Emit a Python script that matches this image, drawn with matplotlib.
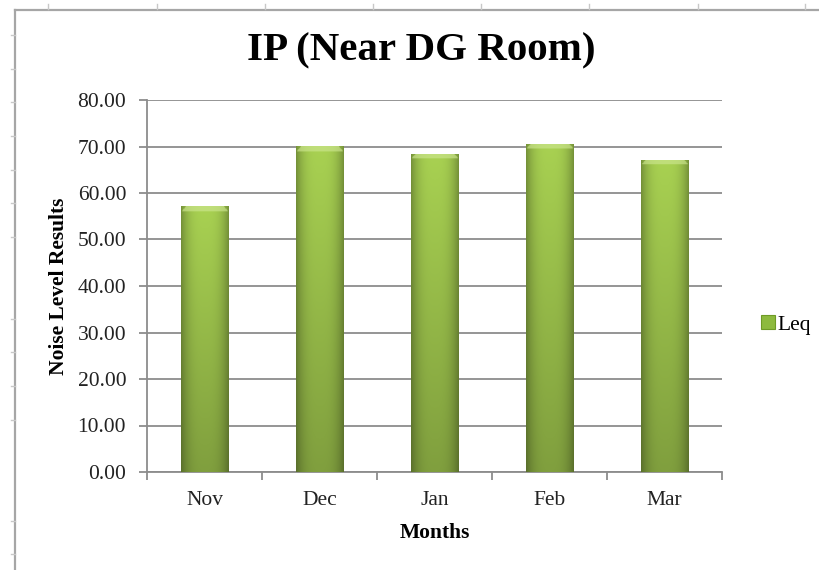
"""
IP (Near DG Room) noise level bar chart, Excel-style look
"""

import matplotlib.pyplot as plt
import numpy as np
from matplotlib.lines import Line2D
from matplotlib.patches import Patch

plt.rcParams['font.family'] = ['Liberation Serif', 'DejaVu Serif']

# Data
MONTHS = ['Nov', 'Dec', 'Jan', 'Feb', 'Mar']
LEQ = [57.2, 70.1, 68.4, 70.6, 67.2]
Y_TICKS = [0, 10, 20, 30, 40, 50, 60, 70, 80]

TITLE = 'IP (Near DG Room)'
X_LABEL = 'Months'
Y_LABEL = 'Noise Level Results'
SERIES = 'Leq'

W, H = 820, 570
GRID_COLOR = '#8C8C8C'


def bar_image(bar_h):
    """Green bar fill: darker at the sides and bottom, light bevel on top."""
    nx, ny = 80, 300
    x = np.linspace(-1, 1, nx)
    y = np.linspace(0, 1, ny)
    side = 1 - 0.30 * np.abs(x) ** 3
    vert = 0.76 + 0.24 * y
    top = np.array([0.66, 0.82, 0.32])
    img = top[None, None, :] * side[None, :, None] * vert[:, None, None]
    # bevel band, about 1 data unit tall, trapezoid shaped
    bevel = 1.1 / bar_h
    for j in range(ny):
        d = 1 - y[j]
        if d < bevel:
            frac = d / bevel
            inside = np.abs(x) < (0.80 + 0.2 * frac)
            img[j, inside] = img[j, inside] * 0.35 + np.array([0.80, 0.90, 0.56]) * 0.65
    return np.clip(img, 0, 1)


def main():
    fig = plt.figure(figsize=(W / 100, H / 100), dpi=100)
    ax = fig.add_axes([147 / W, 1 - 472 / H, (722 - 147) / W, (472 - 100) / H])

    pos = np.arange(len(MONTHS))
    bars = ax.bar(pos, LEQ, width=0.41, color='#93BE45', edgecolor='none', zorder=3)
    for b in bars:
        x0, w, h = b.get_x(), b.get_width(), b.get_height()
        im = ax.imshow(bar_image(h), extent=(x0, x0 + w, 0, h), origin='lower',
                       aspect='auto', zorder=4, interpolation='bilinear')
        im.set_clip_path(b)

    ax.set_xlim(-0.5, len(MONTHS) - 0.5)
    ax.set_ylim(0, 80)
    ax.set_yticks(Y_TICKS)
    ax.set_yticklabels([f'{v:.2f}' for v in Y_TICKS], fontsize=15.5, color='#222222')
    ax.set_xticks(pos)
    ax.set_xticklabels(MONTHS, fontsize=15.5, color='#222222')
    ax.set_xticks(np.arange(-0.5, len(MONTHS)), minor=True)
    ax.tick_params(axis='x', which='major', length=0, pad=14)
    ax.tick_params(axis='x', which='minor', length=6, width=1.3, color=GRID_COLOR)
    ax.tick_params(axis='y', length=6, width=1.3, color=GRID_COLOR, pad=9)

    ax.grid(axis='y', color=GRID_COLOR, linewidth=1.3, zorder=0)
    ax.set_axisbelow(True)
    for s in ['top', 'right']:
        ax.spines[s].set_visible(False)
    for s in ['left', 'bottom']:
        ax.spines[s].set_color(GRID_COLOR)
        ax.spines[s].set_linewidth(1.3)

    ax.set_xlabel(X_LABEL, fontsize=15.5, fontweight='bold', labelpad=9)
    ax.set_ylabel(Y_LABEL, fontsize=15.5, fontweight='bold', labelpad=6)

    fig.text(421 / W, 1 - 51 / H, TITLE, fontsize=29.5, fontweight='bold',
             ha='center', va='center')

    handle = Patch(facecolor='#8DBA3E', edgecolor='#6E9A26', linewidth=0.8)
    fig.legend([handle], [SERIES], loc='center left',
               bbox_to_anchor=(752 / W, 1 - 325 / H), frameon=False,
               fontsize=15.5, handlelength=0.65, handleheight=0.65,
               handletextpad=0.15, borderaxespad=0)

    # window frame and ruler marks around the chart
    frame = '#A6A6A6'
    fig.add_artist(Line2D([15.5 / W, 15.5 / W], [0, 1 - 9.5 / H],
                          transform=fig.transFigure, color=frame, lw=1.6))
    fig.add_artist(Line2D([15.5 / W, 1], [1 - 9.5 / H, 1 - 9.5 / H],
                          transform=fig.transFigure, color=frame, lw=1.6))
    for px in [48, 157, 265, 373, 481, 589, 698, 805]:
        fig.add_artist(Line2D([px / W, px / W], [1 - 4 / H, 1 - 9 / H],
                              transform=fig.transFigure, color='#C8C8C8', lw=1))
    for py in [35, 69, 102, 136, 170, 203, 237, 319, 352, 386, 420, 521, 554]:
        fig.add_artist(Line2D([11 / W, 15 / W], [1 - py / H, 1 - py / H],
                              transform=fig.transFigure, color='#C8C8C8', lw=1))

    fig.savefig('out.png', dpi=100)
    plt.close(fig)


if __name__ == '__main__':
    main()
